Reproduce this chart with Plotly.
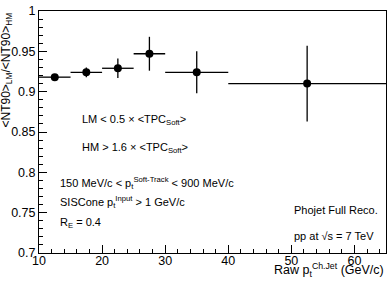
import plotly.graph_objects as go

x_centers = [12.5, 17.5, 22.5, 27.5, 35.0, 52.5]
x_halfwidth = [2.5, 2.5, 2.5, 2.5, 5.0, 12.5]
ratio = [0.918, 0.924, 0.929, 0.947, 0.924, 0.910]
ratio_err = [0.002, 0.006, 0.012, 0.021, 0.026, 0.047]

x_ticks = [10, 20, 30, 40, 50, 60]
y_ticks = [0.7, 0.75, 0.8, 0.85, 0.9, 0.95, 1.0]
y_tick_labels = ["0.7", "0.75", "0.8", "0.85", "0.9", "0.95", "1"]

FONT = "Liberation Sans, Arial, Helvetica, sans-serif"

fig = go.Figure()
fig.add_trace(go.Scatter(
    x=x_centers, y=ratio, mode="markers",
    marker=dict(color="black", size=8, symbol="circle"),
    error_x=dict(type="data", array=x_halfwidth, color="black", thickness=1.3, width=0),
    error_y=dict(type="data", array=ratio_err, color="black", thickness=1.3, width=0),
    showlegend=False,
))

axis_common = dict(
    ticks="inside", showline=True, linecolor="black", linewidth=1, mirror=True,
    showgrid=False, zeroline=False, tickcolor="black", ticklabeloverflow="allow",
    tickfont=dict(family=FONT, size=12.5, color="black"),
)
fig.update_xaxes(range=[10, 65], tickvals=x_ticks, ticklen=8, ticklabelstandoff=-4,
                 minor=dict(dtick=2, ticks="inside", ticklen=4, tickcolor="black"),
                 **axis_common)
fig.update_yaxes(range=[0.7, 1.0], tickvals=y_ticks, ticktext=y_tick_labels, ticklen=8,
                 minor=dict(dtick=0.01, ticks="inside", ticklen=4, tickcolor="black"),
                 **axis_common)

tf = dict(family=FONT, size=11, color="black")
anns = [
    (80, 117, "LM &lt; 0.5 × &lt;TPC<sub>Soft</sub>&gt;"),
    (80, 145, "HM &gt; 1.6 × &lt;TPC<sub>Soft</sub>&gt;"),
    (58, 181, "150 MeV/c &lt; p<sub>t</sub><sup>Soft-Track</sup> &lt; 900 MeV/c"),
    (58, 201, "SISCone p<sub>t</sub><sup>Input</sup> &gt; 1 GeV/c"),
    (58, 222, "R<sub>E</sub> = 0.4"),
    (293, 209, "Phojet Full Reco."),
    (293, 236, "pp at √s = 7 TeV"),
]

L, R, T, B = 39, 4, 5, 29
W, H = 391, 282
pw, ph = W - L - R, H - T - B
for px, py, t in anns:
    fig.add_annotation(text=t, x=(px - L) / pw, y=1 - (py - T) / ph,
                       xref="paper", yref="paper",
                       xanchor="left", yanchor="middle", showarrow=False, font=tf)

fig.add_annotation(text="Raw p<sub>t</sub><sup>Ch.Jet</sup> (GeV/c)", x=1.0, y=-(H - (T + ph)) / ph,
                   xref="paper", yref="paper", xanchor="right", yanchor="bottom",
                   showarrow=False, font=dict(family=FONT, size=12.5, color="black"))
fig.add_annotation(text="&lt;NT90&gt;<sub>LM</sub>/&lt;NT90&gt;<sub>HM</sub>", x=-0.095, y=1,
                   xref="paper", yref="paper", xanchor="center", yanchor="top",
                   textangle=-90, showarrow=False, font=dict(family=FONT, size=12, color="black"))

fig.update_layout(width=W, height=H, margin=dict(l=L, r=R, t=T, b=B),
                  plot_bgcolor="white", paper_bgcolor="white")
fig.write_html("out.html", config={"displayModeBar": False},
               post_script="document.body.style.margin='0';document.body.style.padding='0';document.body.style.overflow='hidden';")
